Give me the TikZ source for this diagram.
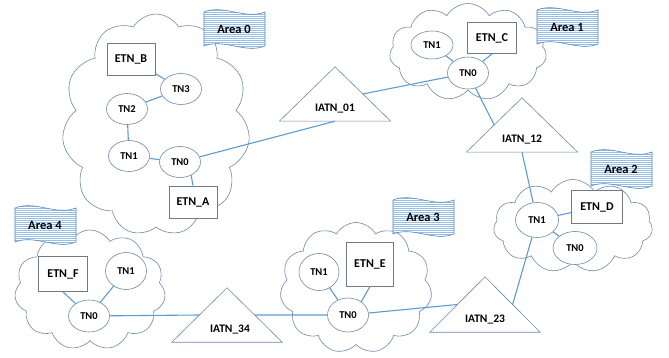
\documentclass[tikz,border=0pt]{standalone}
\usepackage{fontspec}
\setmainfont{Carlito}
\usetikzlibrary{shapes,patterns.meta,positioning,calc}
\definecolor{linkblue}{RGB}{91,155,213}
\definecolor{outline}{RGB}{110,138,170}
\definecolor{boxgray}{RGB}{112,122,136}
\definecolor{flagblue}{RGB}{86,134,192}
\definecolor{stripe}{RGB}{150,190,230}
\begin{document}
\begin{tikzpicture}[x=1pt,y=-1pt]
    % Styles
        \tikzstyle{area} = [cloud, cloud puffs=11, cloud puff arc=120, cloud ignores aspect, draw=outline, fill=white, line width=0.6pt]
        \tikzstyle{tn} = [ellipse, draw=outline, fill=white, minimum width=41pt, minimum height=31pt, inner sep=0pt, line width=0.6pt, font={\bfseries\fontsize{10.5}{10.5}\selectfont}]
        \tikzstyle{etn} = [rectangle, draw=boxgray, fill=white, minimum width=48pt, minimum height=32pt, line width=0.8pt, font={\bfseries\fontsize{12}{12}\selectfont}]
        \tikzstyle{iatn} = [rectangle, minimum width=111pt, minimum height=54pt, inner sep=0pt]
        \tikzstyle{tri} = [draw=outline, fill=white, line width=0.6pt]
        \tikzstyle{iatntext} = [inner sep=0pt, font={\bfseries\fontsize{11.5}{11.5}\selectfont}]
        \tikzstyle{line} = [draw=linkblue, line width=1.1pt]
        \tikzstyle{flagtext} = [font={\bfseries\fontsize{12.5}{12.5}\selectfont}]
        \tikzset{areaflag/.pic={
            \path[draw=flagblue, line width=0.6pt, preaction={fill=white}, pattern={Lines[angle=0, distance=2pt, line width=0.6pt]}, pattern color=stripe]
                (0,3) .. controls (20,-5) and (41,11) .. (61,3) -- (61,37) .. controls (41,45) and (20,29) .. (0,37) -- cycle;
        }}
    \useasboundingbox (0,0) rectangle (669,358);
    % clouds
        \node [area, minimum width=188pt, minimum height=222pt] (cloud0) at (156,125) {};
        \node [area, minimum width=157pt, minimum height=97pt] (cloud1) at (468,52) {};
        \node [area, minimum width=159pt, minimum height=93pt] (cloud2) at (573,226) {};
        \node [area, minimum width=152pt, minimum height=131pt] (cloud3) at (356,288) {};
        \node [area, minimum width=151pt, minimum height=120pt] (cloud4) at (90,290) {};
    % flags
        \pic at (204,9) {areaflag};
        \node [flagtext] (area0) at (234,29) {Area 0};
        \pic at (537,7) {areaflag};
        \node [flagtext] (area1) at (567,27) {Area 1};
        \pic at (591,149) {areaflag};
        \node [flagtext] (area2) at (621,169) {Area 2};
        \pic at (393,197) {areaflag};
        \node [flagtext] (area3) at (423,217) {Area 3};
        \pic at (15,205) {areaflag};
        \node [flagtext] (area4) at (45,225) {Area 4};
    % area 0
        \node [etn] (a0-etnb) at (131,59) {ETN\_B};
        \node [tn] (a0-tn3) at (181,89) {TN3};
        \node [tn] (a0-tn2) at (127,109) {TN2};
        \node [tn] (a0-tn1) at (129,156) {TN1};
        \node [tn] (a0-tn0) at (180,162) {TN0};
        \node [etn] (a0-etna) at (193,202) {ETN\_A};
    % area 1
        \node [tn, minimum width=42pt, minimum height=28pt] (a1-tn1) at (432,45) {TN1};
        \node [etn, minimum width=49pt, minimum height=31pt] (a1-etnc) at (492,38) {ETN\_C};
        \node [tn, minimum width=41pt, minimum height=32pt] (a1-tn0) at (468,73) {TN0};
    % area 2
        \node [tn, minimum width=43pt, minimum height=35pt] (a2-tn1) at (537,220) {TN1};
        \node [etn, minimum width=51pt, minimum height=33pt] (a2-etnd) at (597,207) {ETN\_D};
        \node [tn, minimum width=44pt, minimum height=33pt] (a2-tn0) at (575,248) {TN0};
    % area 3
        \node [tn, minimum width=40pt, minimum height=37pt] (a3-tn1) at (319,272) {TN1};
        \node [etn, minimum width=47pt, minimum height=44pt] (a3-etne) at (370,264) {ETN\_E};
        \node [tn, minimum width=41pt, minimum height=34pt] (a3-tn0) at (348,315) {TN0};
    % area 4
        \node [etn, minimum width=49pt, minimum height=35pt] (a4-etnf) at (63,274) {ETN\_F};
        \node [tn, minimum width=41pt, minimum height=37pt] (a4-tn1) at (126,271) {TN1};
        \node [tn, minimum width=41pt, minimum height=32pt] (a4-tn0) at (89,316) {TN0};
    % inter-area nodes
        \node [iatn] (iatn01) at (335,94) {};
        \node [iatn] (iatn12) at (522,125) {};
        \node [iatn, minimum width=110pt, minimum height=55pt] (iatn23) at (485,304.5) {};
        \node [iatn, minimum width=110pt] (iatn34) at (227,315) {};
        \foreach \t in {iatn01,iatn12,iatn23,iatn34} {
            \path [tri] (\t.south west) -- (\t.north) -- (\t.south east) -- cycle;
            \coordinate (\t-l) at ($(\t.north)!0.5!(\t.south west)$);
            \coordinate (\t-r) at ($(\t.north)!0.5!(\t.south east)$);
        }
        \node [iatntext, above=8pt of iatn01.south] (iatn01-text) {IATN\_01};
        \node [iatntext, above=8pt of iatn12.south] (iatn12-text) {IATN\_12};
        \node [iatntext, above=8pt of iatn23.south] (iatn23-text) {IATN\_23};
        \node [iatntext, above=8pt of iatn34.south, xshift=3pt] (iatn34-text) {IATN\_34};
    % Draw edges
        \path [line] (a0-etnb) -- (a0-tn3);
        \path [line] (a0-tn3) -- (a0-tn2);
        \path [line] (a0-tn2) -- (a0-tn1);
        \path [line] (a0-tn1) -- (a0-tn0);
        \path [line] (a0-tn0.-50) -- (a0-etna.north);
        \path [line] (a0-tn0) -- (iatn01.south);
        \path [line] (iatn01-r) -- (a1-tn0);
        \path [line] (a1-tn1) -- (a1-tn0);
        \path [line] (a1-etnc.south) -- (a1-tn0);
        \path [line] (a1-tn0) -- (iatn12-l);
        \path [line] (iatn12.south) -- (a2-tn1);
        \path [line] (a2-tn1) -- (a2-etnd);
        \path [line] (a2-tn1) -- (a2-tn0);
        \path [line] (a2-tn1) -- (iatn23-r);
        \path [line] (iatn23-l) -- (a3-tn0);
        \path [line] (a3-tn1) -- (a3-tn0);
        \path [line] (a3-etne.south) -- (a3-tn0.45);
        \path [line] (a3-tn0) -- (iatn34-r);
        \path [line] (iatn34-l) -- (a4-tn0);
        \path [line] (a4-etnf.south) -- (a4-tn0);
        \path [line] (a4-tn1) -- (a4-tn0);
\end{tikzpicture}
\end{document}
